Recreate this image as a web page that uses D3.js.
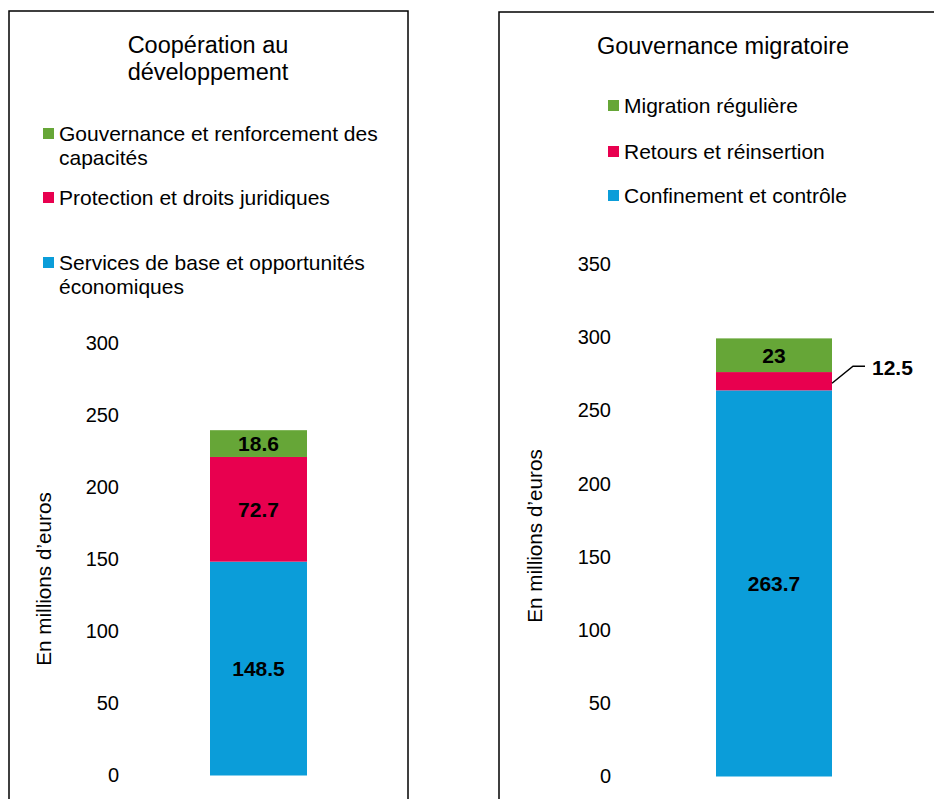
<!DOCTYPE html>
<html>
<head>
<meta charset="utf-8">
<script src="https://cdn.jsdelivr.net/npm/d3@7"></script>
<style>
  body { margin: 0; background: #fff; }
  text { font-family: "Liberation Sans", Arial, sans-serif; fill: #000; }
</style>
</head>
<body>
<div id="chart"></div>
<script>
// data
const devCategories = ["Services de base et opportunités économiques", "Protection et droits juridiques", "Gouvernance et renforcement des capacités"];
const devValues = [148.5, 72.7, 18.6];
const devTicks = [0, 50, 100, 150, 200, 250, 300];

const migCategories = ["Confinement et contrôle", "Retours et réinsertion", "Migration régulière"];
const migValues = [263.7, 12.5, 23];
const migTicks = [0, 50, 100, 150, 200, 250, 300, 350];

const colors = ["#0b9dd9", "#e8004f", "#66a637"];

const W = 934, H = 799;

const svg = d3.select("#chart").append("svg")
  .attr("width", W)
  .attr("height", H);

function drawPanel(o) {
  const g = svg.append("g");

  g.append("rect")
    .attr("x", o.box[0]).attr("y", o.box[1])
    .attr("width", o.box[2]).attr("height", H)
    .attr("fill", "none")
    .attr("stroke", "#000")
    .attr("stroke-width", 1.5);

  // title
  o.title.forEach((t, i) => {
    g.append("text")
      .attr("x", o.titleX)
      .attr("y", o.titleY + i * 27)
      .attr("dy", "0.35em")
      .attr("text-anchor", "middle")
      .attr("font-size", 23.5)
      .text(t);
  });

  // legend (top to bottom: reversed stack order)
  o.legend.forEach(item => {
    const lg = g.append("g").attr("transform", `translate(${o.legendX}, ${item.y})`);
    lg.append("rect")
      .attr("x", 0).attr("y", -6)
      .attr("width", 11).attr("height", 11)
      .attr("fill", colors[item.idx]);
    item.lines.forEach((l, j) => {
      lg.append("text")
        .attr("x", 16)
        .attr("y", j * 24)
        .attr("dy", "0.35em")
        .attr("font-size", 21)
        .text(l);
    });
  });

  const y = d3.scaleLinear().domain([0, o.max]).range(o.yRange);
  const x = d3.scaleBand().domain(["total"]).range(o.xRange);

  // y axis (labels only)
  const axis = g.append("g")
    .attr("transform", `translate(${o.axisX},0)`)
    .call(d3.axisLeft(y).tickValues(o.ticks).tickSize(0).tickPadding(0).tickFormat(d3.format("d")));
  axis.select(".domain").remove();
  axis.selectAll("text")
    .attr("font-size", 20)
    .attr("font-family", "Liberation Sans, Arial, sans-serif")
    .attr("fill", "#000");

  g.append("text")
    .attr("transform", `translate(${o.yTitle[0]},${o.yTitle[1]}) rotate(-90)`)
    .attr("text-anchor", "middle")
    .attr("dy", "0.35em")
    .attr("font-size", 20.7)
    .text("En millions d\u2019euros");

  // stacked segments
  let acc = 0;
  const segs = o.values.map((v, i) => {
    const s = { i, v, y0: acc, y1: acc + v };
    acc += v;
    return s;
  });

  g.selectAll(".seg")
    .data(segs)
    .enter().append("rect")
    .attr("x", x("total"))
    .attr("width", x.bandwidth())
    .attr("y", d => y(d.y1))
    .attr("height", d => y(d.y0) - y(d.y1))
    .attr("fill", d => colors[d.i]);

  segs.forEach(d => {
    const cy = y((d.y0 + d.y1) / 2);
    if (o.outside && o.outside.includes(d.i)) {
      const x0 = x("total") + x.bandwidth();
      g.append("path")
        .attr("d", `M${x0},${cy + 2}L${x0 + 21},${cy - 15}L${x0 + 33},${cy - 15}`)
        .attr("fill", "none")
        .attr("stroke", "#000")
        .attr("stroke-width", 1.5);
      g.append("text")
        .attr("x", x0 + 40)
        .attr("y", cy - 14)
        .attr("dy", "0.35em")
        .attr("font-size", 21)
        .attr("font-weight", "bold")
        .text(d.v);
    } else {
      g.append("text")
        .attr("x", x("total") + x.bandwidth() / 2)
        .attr("y", cy)
        .attr("dy", "0.35em")
        .attr("text-anchor", "middle")
        .attr("font-size", 21)
        .attr("font-weight", "bold")
        .text(d.v);
    }
  });
}

drawPanel({
  box: [9, 11, 399],
  title: ["Coopération au", "développement"],
  titleX: 208, titleY: 45,
  legendX: 43,
  legend: [
    { idx: 2, y: 134, lines: ["Gouvernance et renforcement des", "capacités"] },
    { idx: 1, y: 198, lines: [devCategories[1]] },
    { idx: 0, y: 263, lines: ["Services de base et opportunités", "économiques"] }
  ],
  values: devValues,
  ticks: devTicks,
  max: 300,
  yRange: [775.5, 343.5],
  xRange: [210, 307],
  axisX: 119,
  yTitle: [44, 579]
});

drawPanel({
  box: [499, 12, 460],
  title: ["Gouvernance migratoire"],
  titleX: 723, titleY: 46,
  legendX: 608,
  legend: [
    { idx: 2, y: 106, lines: [migCategories[2]] },
    { idx: 1, y: 152, lines: [migCategories[1]] },
    { idx: 0, y: 196, lines: [migCategories[0]] }
  ],
  values: migValues,
  ticks: migTicks,
  max: 350,
  yRange: [776.5, 264],
  xRange: [716, 832],
  axisX: 611,
  yTitle: [535, 536],
  outside: [1]
});
</script>
</body>
</html>
